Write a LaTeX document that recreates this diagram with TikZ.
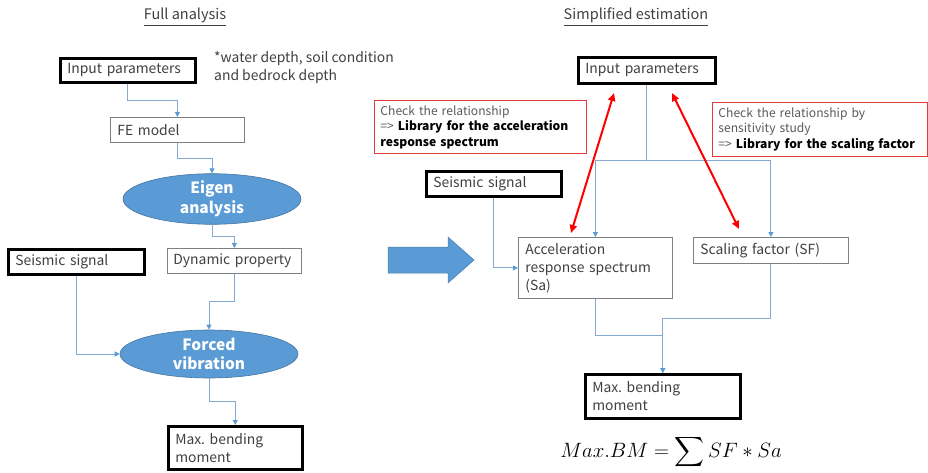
\documentclass[tikz,border=0pt]{standalone}
\usepackage{fontspec}
\usepackage{amsmath}
\setmainfont{Noto Sans CJK JP}
\usetikzlibrary{shapes.geometric,arrows.meta,calc}

\definecolor{flowblue}{HTML}{5B9BD5}
\definecolor{linkblue}{HTML}{86A9D2}
\definecolor{boxgray}{HTML}{808080}
\definecolor{txtgray}{HTML}{404040}
\definecolor{notered}{HTML}{E03C3C}

\hyphenpenalty=10000
\frenchspacing
\newcommand\bodyfont{\fontsize{13.9}{18}\selectfont}
\newcommand\notefont{\fontsize{12.1}{15.5}\selectfont}
\newcommand\procfont{\fontsize{15.5}{19.5}\selectfont\bfseries}

\begin{document}
\begin{tikzpicture}[x=1pt,y=-1pt,
    box/.style={draw=boxgray, line width=0.8pt, anchor=north west, align=left,
      inner xsep=7pt, inner ysep=0pt, text=txtgray, font=\bodyfont},
    inbox/.style={box, draw=black, line width=2.6pt},
    note/.style={box, draw=notered, line width=0.9pt, font=\notefont,
      inner xsep=6pt, text=black!65},
    proc/.style={ellipse, fill=flowblue, draw=flowblue!75!black, line width=0.6pt,
      minimum width=178pt, minimum height=48pt, inner sep=0pt,
      text=white, font=\procfont, align=center},
    link/.style={draw=linkblue, line width=0.9pt,
      -{Triangle[length=5pt,width=5pt,color=flowblue]}},
    elbow/.style={to path={(\tikztostart) |- ($(\tikztostart)!0.5!(\tikztotarget)$)
      -| (\tikztotarget)}},
    rel/.style={red, line width=2pt,
      {Triangle[length=8pt,width=7pt]}-{Triangle[length=8pt,width=7pt]}},
    ttl/.style={text=txtgray, font=\fontsize{14.5}{17}\selectfont}]
  \useasboundingbox (0,0) rectangle (928,473);

  % Full analysis
  \node[ttl] (ttlL) at (185,17) {\underline{Full analysis}};
  \node[inbox, text width=121pt, minimum height=24pt] (inL) at (59,57) {Input parameters};
  \node[anchor=north west, align=left, inner sep=0pt, text=txtgray, font=\bodyfont]
    (param) at (214,51) {*water depth, soil condition\\and bedrock depth};
  \node[box, text width=120pt, minimum height=25pt] (fe) at (110,117) {FE model};
  \node[proc] (eig) at (212,199) {Eigen\\analysis};
  \node[box, inner xsep=6pt, text width=122pt, minimum height=25pt] (dyn) at (167,248)
    {Dynamic property};
  \node[inbox, text width=122pt, minimum height=25pt] (sigL) at (7,248) {Seismic signal};
  \node[proc] (frc) at (209,354) {Forced\\vibration};
  \node[inbox, text width=120pt, minimum height=43pt] (maxL) at (167,425) {Max. bending\\moment};

  \draw[link] (inL.south) to[elbow] (fe.north);
  \draw[link] (fe.south) to[elbow] (eig.north);
  \draw[link] (eig.south) to[elbow] (dyn.north);
  \draw[link] (dyn.south) to[elbow] (frc.north);
  \draw[link] (sigL.south) |- (frc.west);
  \draw[link] (frc.south) to[elbow] (maxL.north);

  % arrow between the two methods
  \fill[flowblue, draw=flowblue!80!black, line width=0.5pt]
    (388,247) -- (448,247) -- (448,237) -- (474,260) -- (448,283)
    -- (448,273) -- (388,273) -- cycle;

  % Simplified estimation
  \node[ttl] (ttlR) at (636,17) {\underline{Simplified estimation}};
  \node[inbox, text width=123pt, minimum height=26pt] (inR) at (577,56) {Input parameters};
  \node[note, text width=200pt, minimum height=53pt] (chkA) at (374,100)
    {Check the relationship\\=> \textcolor{black}{\bfseries Library for the acceleration}\\
     \textcolor{black}{\bfseries response spectrum}};
  \node[note, text width=203pt, minimum height=54pt] (chkB) at (712,102)
    {Check the relationship by\\sensitivity study\\
     => \textcolor{black}{\bfseries Library for the scaling factor}};
  \node[inbox, text width=121pt, minimum height=25pt] (sigR) at (425,170) {Seismic signal};
  \node[box, text width=140pt, minimum height=61pt] (acc) at (518,237)
    {Acceleration\\response spectrum\\(Sa)};
  \node[box, text width=141pt, minimum height=26pt] (sf) at (693,237) {Scaling factor (SF)};
  \node[inbox, text width=141pt, minimum height=44pt] (maxR) at (584,373) {Max. bending\\moment};
  \node[font=\fontsize{19.2}{22}\selectfont] (bm) at (671,452)
    {$Max.BM=\displaystyle\sum SF\ast Sa$};

  \draw[link] (inR.south) to[elbow] (acc.north);
  \draw[link] (inR.south) to[elbow] (sf.north);
  \draw[link] (sigR.south) |- (acc.west);
  \draw[link] (acc.south) to[elbow] (maxR.north);
  \draw[link] (sf.south) to[elbow] (maxR.north);

  \coordinate (a1) at (614,93);
  \coordinate (a2) at (571,233);
  \coordinate (b1) at (672,93);
  \coordinate (b2) at (739,229);
  \draw[rel] (a1) -- (a2);
  \draw[rel] (b1) -- (b2);
\end{tikzpicture}
\end{document}
